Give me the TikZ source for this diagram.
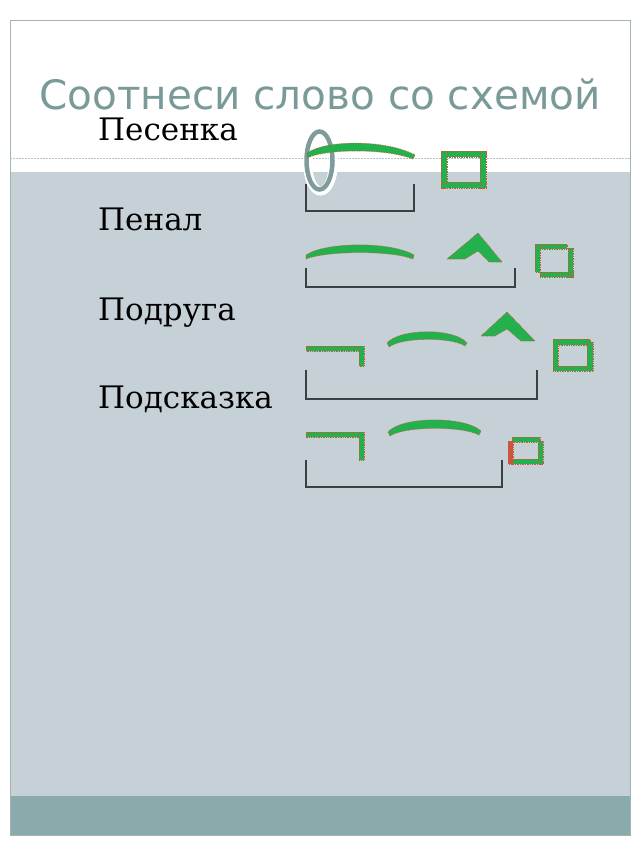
\documentclass[tikz,border=0pt]{standalone}
\usepackage{fontspec}
\setmainfont{DejaVu Serif}
\newfontfamily\titlefont{DejaVu Sans}
\usetikzlibrary{positioning}
\definecolor{slidebg}{RGB}{198,209,215}
\definecolor{bandcolor}{RGB}{138,171,171}
\definecolor{titlecolor}{RGB}{122,154,154}
\definecolor{framecolor}{RGB}{160,180,180}
\definecolor{partgreen}{RGB}{34,177,76}
\definecolor{partred}{RGB}{205,85,60}
\definecolor{ovalcolor}{RGB}{128,155,155}
\definecolor{basecolor}{RGB}{60,64,68}

\begin{document}
\begin{tikzpicture}[
    x=1pt, y=-1pt,
    word/.style={anchor=base west, inner sep=0pt, font=\fontsize{31}{36}\selectfont},
    part/.style={fill=partgreen, draw=partred, densely dotted, line width=0.7pt},
    base/.style={draw=basecolor, line width=1.3pt},
    bar/.style={part, fill=partgreen}
]
    \useasboundingbox (0,0) rectangle (640,853);
    % Slide
    \fill[white] (0,0) rectangle (640,853);
    \fill[slidebg] (10,172) rectangle (630,796);
    \fill[bandcolor] (10,796) rectangle (630,835);
    \draw[framecolor, line width=0.8pt] (10,20) rectangle (630,835);
    \draw[framecolor!80, dashed, dash pattern=on 2pt off 1pt, line width=0.6pt] (10,158) -- (630,158);

    % Title and words
    \node[font=\titlefont\fontsize{40.5}{46}\selectfont, text=titlecolor, anchor=base, inner sep=0pt] (title) at (320,110) {Соотнеси слово со схемой};
    \node[word] (song) at (98,141) {Песенка};
    \node[word] (pencase) at (98,230) {Пенал};
    \node[word] (friend) at (98,320) {Подруга};
    \node[word] (hint) at (98,408) {Подсказка};

    % Scheme 1
    \draw[white, line width=9pt] (320.5,162) ellipse (13 and 29);
    \draw[ovalcolor, line width=4.5pt] (319.5,160.5) ellipse (13 and 29);
    \draw[part] (307,153) .. controls (325,140) and (385,139) .. (415,155)
        -- (413,159) .. controls (385,148) and (325,149) .. (307,158) -- cycle;
    \draw[base] (306,184) -- (306,211) -- (414,211) -- (414,184);
    \draw[bar] (441,151) rectangle (486,157);
    \draw[bar] (441,151) rectangle (447,188);
    \draw[bar] (441,182) rectangle (486,188);
    \draw[bar] (480,151) rectangle (486,188);

    % Scheme 2
    \draw[part] (306,255) .. controls (325,242) and (390,241) .. (414,255)
        -- (413,259) .. controls (390,250) and (325,251) .. (306,259) -- cycle;
    \draw[part] (447,259) -- (478,233) -- (502,262) -- (489,262) -- (478,251) -- (465,259) -- cycle;
    \draw[base] (306,268) -- (306,287) -- (515,287) -- (515,268);
    \draw[bar] (535,244) rectangle (567,249);
    \draw[bar] (535,244) rectangle (540,272);
    \draw[bar] (540,272) rectangle (573,277);
    \draw[bar] (568,248) rectangle (573,277);

    % Scheme 3
    \draw[part] (306,346) -- (364,346) -- (364,366) -- (359,366) -- (359,351) -- (306,351) -- cycle;
    \draw[part] (387,343) .. controls (400,328) and (455,328) .. (467,343)
        -- (465,346) .. controls (452,337) and (402,337) .. (389,347) -- cycle;
    \draw[part] (481,336) -- (507,312) -- (535,341) -- (521,341) -- (507,329) -- (495,336) -- cycle;
    \draw[base] (306,370) -- (306,399) -- (537,399) -- (537,370);
    \draw[bar] (553,339) rectangle (590,345);
    \draw[bar] (553,339) rectangle (558,371);
    \draw[bar] (553,366) rectangle (590,371);
    \draw[bar] (587,342) rectangle (593,371);

    % Scheme 4
    \draw[part] (306,432) -- (364,432) -- (364,460) -- (359,460) -- (359,437) -- (306,437) -- cycle;
    \draw[part] (388,432) .. controls (402,416) and (465,416) .. (481,431)
        -- (479,435) .. controls (463,426) and (404,426) .. (390,436) -- cycle;
    \draw[base] (306,460) -- (306,487) -- (502,487) -- (502,460);
    \draw[bar] (512,437) rectangle (540,442);
    \draw[bar, fill=partred] (508,441) rectangle (513,464);
    \draw[bar] (513,459) rectangle (543,464);
    \draw[bar] (538,441) rectangle (543,464);
\end{tikzpicture}
\end{document}
